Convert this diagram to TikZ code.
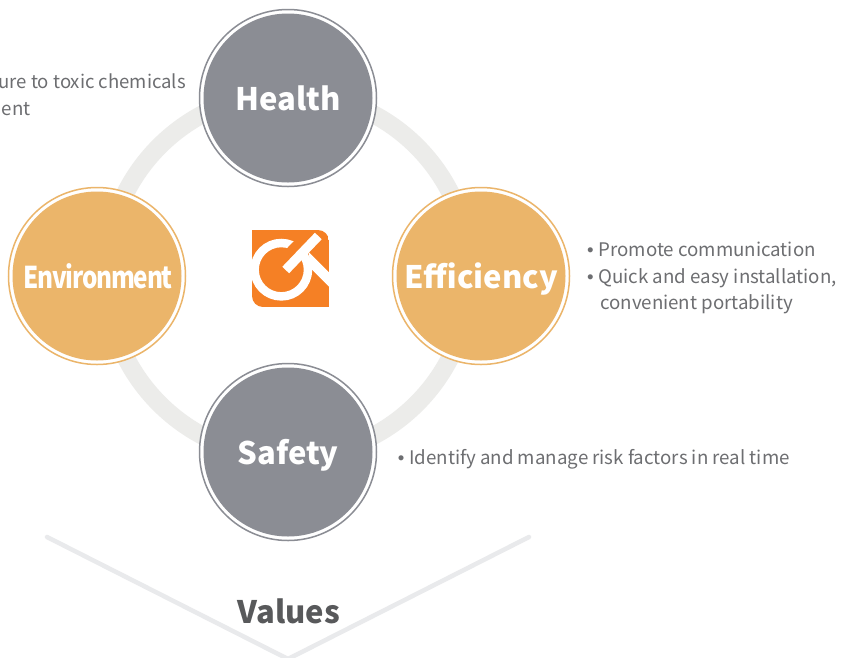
\documentclass[tikz,border=0pt]{standalone}
\usepackage{fontspec}
\setmainfont{Noto Sans CJK SC}
\newfontfamily\bulfont{Liberation Sans}
\newcommand{\bul}{\makebox[11.3pt][l]{\bulfont •}}
\definecolor{ringc}{HTML}{ECECEA}
\definecolor{greyc}{HTML}{8B8D94}
\definecolor{goldc}{HTML}{EBB56A}
\definecolor{orangec}{HTML}{F58025}
\definecolor{chevc}{HTML}{E9EAEC}
\definecolor{bodyc}{HTML}{6D6E71}
\definecolor{headc}{HTML}{58595B}
\tikzset{
  x=1pt,y=-1pt,
  disc/.style={circle,inner sep=0pt,minimum size=169pt,text=white,text height=24pt,text depth=0pt,font=\fontsize{31}{31}\selectfont\bfseries},
  halo/.style={circle,inner sep=0pt,minimum size=177pt,line width=1.5pt,fill=white},
  bodytext/.style={inner sep=0pt,text=bodyc,font=\fontsize{18.7}{18.7}\selectfont},
}
\begin{document}
\begin{tikzpicture}
\useasboundingbox (0,0) rectangle (843,657);
\clip (0,0) rectangle (843,657);
\fill[white] (0,0) rectangle (843,657);
\draw[ringc,line width=18pt] (288,275) circle[radius=182];
% chevron
\coordinate (cl) at (47,537);
\coordinate (capex) at (288,659);
\coordinate (cr) at (529,537);
\draw[chevc,line width=4.5pt,line cap=round,line join=miter] (cl) -- (capex) -- (cr);
% discs
\node[halo,draw=greyc] (hh) at (288,98) {};
\node[disc,fill=greyc] (health) at (288,98) {Health};
\node[halo,draw=greyc] (sh) at (288,452) {};
\node[disc,fill=greyc] (safety) at (288,452) {Safety};
\node[halo,draw=goldc] (eh) at (97,276) {};
\node[disc,fill=goldc] (environment) at (97,276) {\makebox[0pt]{\hspace{2pt}\scalebox{0.81}[1]{\fontsize{30}{30}\selectfont\addfontfeatures{LetterSpace=-5}Environment}}};
\node[halo,draw=goldc] (fh) at (481,276) {};
\node[disc,fill=goldc] (efficiency) at (481,276) {Efficiency};
% logo
\begin{scope}
\clip (252,230) -- (318,230) .. controls (324,230) and (329,235) .. (329,241) -- (329,307) -- (263,307) .. controls (257,307) and (252,302) .. (252,296) -- cycle;
\fill[orangec] (252,230) rectangle (329,307);
\draw[white,line width=8.5pt] (281.3,269.7) circle[radius=26.7];
\draw[orangec,line width=9.4pt] (279,263.4) -- (313,228);
\fill[white] (308.3,251.7) -- (331,274.4) -- (331,288.6) -- (311.7,269.3) -- cycle;
\draw[white,line width=9.4pt] (285.7,270) -- (318.3,236);
\end{scope}
% texts
\node[bodytext,anchor=base east,font=\fontsize{18.55}{18.55}\selectfont] (t1) at (186,88) {ure to toxic chemicals};
\node[bodytext,anchor=base west] (t2) at (1.5,115) {ent};
\node[bodytext,anchor=base west] (t3) at (587,256) {\bul Promote communication};
\node[bodytext,anchor=base west] (t4) at (587,283) {\bul Quick and easy installation,};
\node[bodytext,anchor=base west] (t5) at (600,309) {convenient portability};
\node[bodytext,anchor=base west] (t6) at (397.7,464) {\bul Identify and manage risk factors in real time};
\node[inner sep=0pt,text=headc,text height=24pt,text depth=0pt,font=\fontsize{31}{31}\selectfont\bfseries] (values) at (289,611) {Values};
\end{tikzpicture}
\end{document}
